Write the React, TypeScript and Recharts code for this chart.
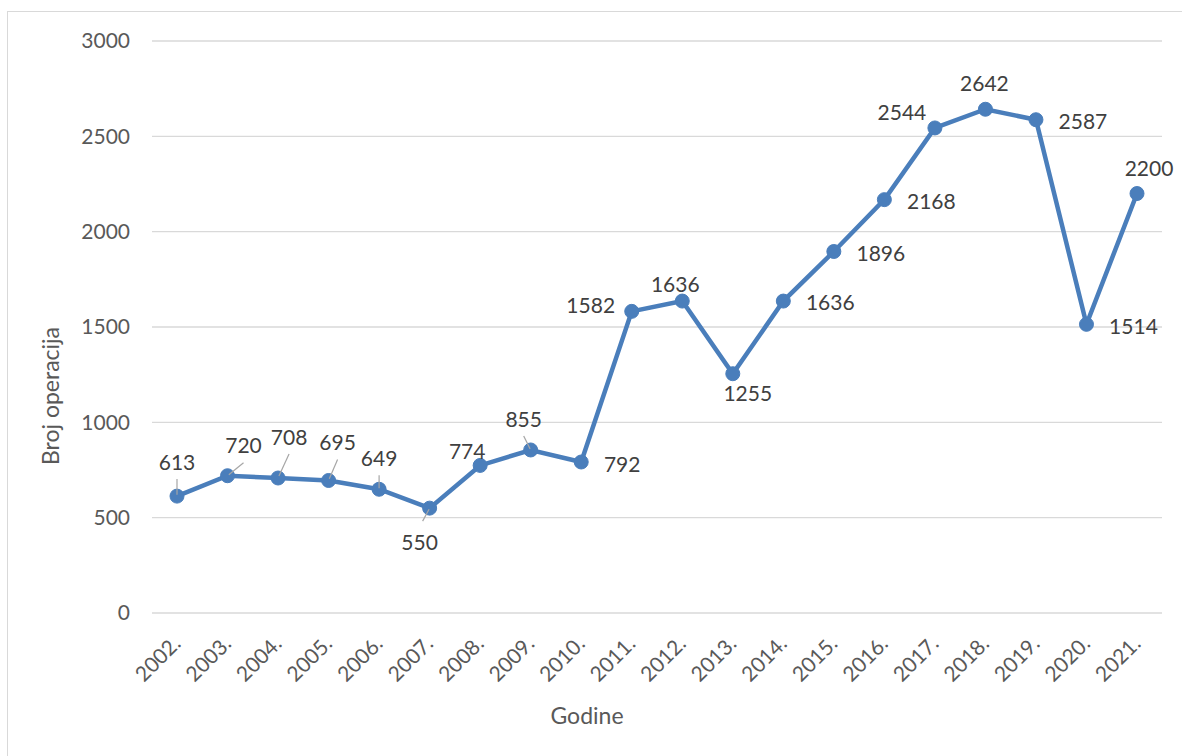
import React from 'react'
import { LineChart, Line, XAxis, YAxis, CartesianGrid, LabelList } from 'recharts'

const years = ['2002.', '2003.', '2004.', '2005.', '2006.', '2007.', '2008.', '2009.', '2010.', '2011.',
    '2012.', '2013.', '2014.', '2015.', '2016.', '2017.', '2018.', '2019.', '2020.', '2021.']
const operations = [613, 720, 708, 695, 649, 550, 774, 855, 792, 1582,
    1636, 1255, 1636, 1896, 2168, 2544, 2642, 2587, 1514, 2200]
const yTicks = [0, 500, 1000, 1500, 2000, 2500, 3000]

// where Excel put each data label, relative to its point
const labelOffsets = [
    [0, -34], [16, -30], [11, -41], [9, -38], [0, -31], [-10, 34], [-13, -14], [-7, -31], [41, 2], [-41, -6],
    [-7, -17], [15, 20], [47, 1], [47, 2], [47, 2], [-33, -16], [-1, -26], [47, 2], [47, 2], [12, -25],
]
const withLeader = [0, 1, 2, 3, 4, 5, 7]

const data = years.map((year, i) => ({ year, value: operations[i] }))

const FONT = 'Lato, "Open Sans", sans-serif'
const BLUE = '#4a7ebb'

const YearTick = (props: any) => {
    const { x, y, payload } = props
    return (
        <g transform={`translate(${x + 5},${y + 24}) rotate(-45)`}>
            <text x={0} y={0} textAnchor="end" fill="#595959" fontSize={21} fontFamily={FONT}>
                {payload.value}
            </text>
        </g>
    )
}

const renderLabel = (props: any) => {
    const { x, y, value, index } = props
    const [dx, dy] = labelOffsets[index]
    const lx = x + dx
    const ly = y + dy
    const leader = withLeader.includes(index)
    const endY = dy < 0 ? ly + 17 : ly - 21
    const endX = dy < 0 ? lx : lx + 3
    return (
        <g>
            {leader && (
                <line x1={x + (endX - x) * 0.08} y1={y + (endY - y) * 0.08} x2={endX} y2={endY}
                    stroke="#a6a6a6" strokeWidth={1.2} />
            )}
            <text x={lx} y={ly} dy="0.36em" textAnchor="middle" fill="#404040" fontSize={21} fontFamily={FONT}>
                {value}
            </text>
        </g>
    )
}

const App = () => {
    return (
        <div style={{ position: 'absolute', left: 0, top: 0, width: 1182, height: 756, overflow: 'hidden', background: '#fff' }}>
            <div style={{ position: 'absolute', left: 7, top: 11, width: 1200, height: 800, border: '1px solid #d9d9d9' }} />
            <div style={{ position: 'absolute', left: 0, top: 0 }}>
                <LineChart width={1182} height={756} data={data} margin={{ top: 41, right: 20, bottom: 0, left: 0 }}>
                    <CartesianGrid vertical={false} stroke="#d9d9d9" strokeWidth={1.3} />
                    <XAxis dataKey="year" height={143} tickLine={false} axisLine={false}
                        padding={{ left: 25, right: 25 }} interval={0} tick={<YearTick />} />
                    <YAxis width={152} domain={[0, 3000]} ticks={yTicks} tickLine={false} axisLine={false}
                        tickMargin={16} tick={{ fill: '#595959', fontSize: 21, fontFamily: FONT }} />
                    <Line type="linear" dataKey="value" stroke={BLUE} strokeWidth={4.5}
                        dot={{ r: 7, fill: BLUE, stroke: BLUE, strokeWidth: 1 }} isAnimationActive={false}>
                        <LabelList dataKey="value" content={renderLabel} />
                    </Line>
                </LineChart>
            </div>
            <svg width={1182} height={756} style={{ position: 'absolute', left: 0, top: 0, pointerEvents: 'none' }}>
                <text x={51} y={396} dy="0.36em" textAnchor="middle" transform="rotate(-90, 51, 396)"
                    fill="#595959" fontSize={23} fontFamily={FONT}>Broj operacija</text>
                <text x={587} y={716} dy="0.36em" textAnchor="middle" fill="#595959" fontSize={23} fontFamily={FONT}>Godine</text>
            </svg>
        </div>
    )
}

export default App
